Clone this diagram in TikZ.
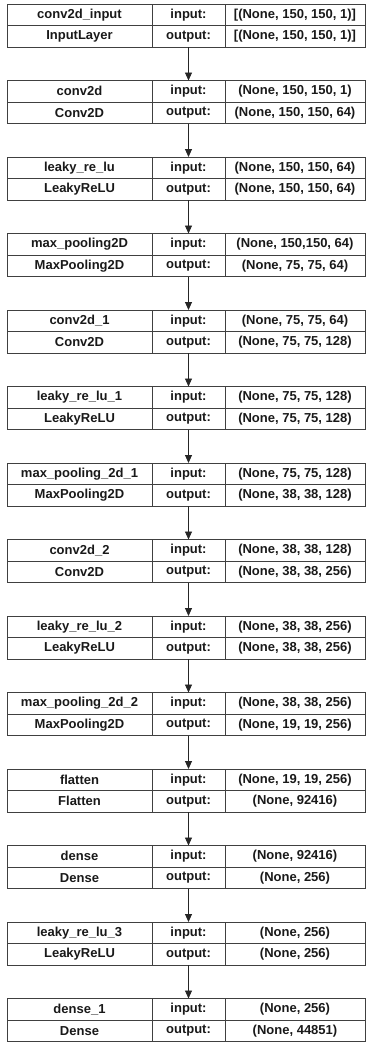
\documentclass[tikz,border=0pt]{standalone}
\usepackage{fontspec}
\setmainfont{Liberation Sans}
\usetikzlibrary{arrows.meta, positioning}

\begin{document}
\begin{tikzpicture}[
    x=1pt, y=1pt,
    cell/.style={rectangle, draw=black!75, line width=0.9pt, inner sep=0pt, outer sep=0pt, minimum height=21.5pt, font=\fontsize{13}{15}\selectfont\bfseries, text=black!90},
    namecell/.style={cell, minimum width=145pt},
    portcell/.style={cell, minimum width=73pt},
    shapecell/.style={cell, minimum width=140pt},
    arrow/.style={-{Triangle[width=7pt,length=8pt]}, line width=0.9pt, draw=black!85}
]
    \useasboundingbox (0,0) rectangle (366,-1042);

    \foreach \lname/\ltype/\inshape/\outshape [count=\i] in {
        conv2d\_input/InputLayer/{[(None, 150, 150, 1)]}/{[(None, 150, 150, 1)]},
        conv2d/Conv2D/{(None, 150, 150, 1)}/{(None, 150, 150, 64)},
        leaky\_re\_lu/LeakyReLU/{(None, 150, 150, 64)}/{(None, 150, 150, 64)},
        max\_pooling2D/MaxPooling2D/{(None, 150,150, 64)}/{(None, 75, 75, 64)},
        conv2d\_1/Conv2D/{(None, 75, 75, 64)}/{(None, 75, 75, 128)},
        leaky\_re\_lu\_1/LeakyReLU/{(None, 75, 75, 128)}/{(None, 75, 75, 128)},
        max\_pooling\_2d\_1/MaxPooling2D/{(None, 75, 75, 128)}/{(None, 38, 38, 128)},
        conv2d\_2/Conv2D/{(None, 38, 38, 128)}/{(None, 38, 38, 256)},
        leaky\_re\_lu\_2/LeakyReLU/{(None, 38, 38, 256)}/{(None, 38, 38, 256)},
        max\_pooling\_2d\_2/MaxPooling2D/{(None, 38, 38, 256)}/{(None, 19, 19, 256)},
        flatten/Flatten/{(None, 19, 19, 256)}/{(None, 92416)},
        dense/Dense/{(None, 92416)}/{(None, 256)},
        leaky\_re\_lu\_3/LeakyReLU/{(None, 256)}/{(None, 256)},
        dense\_1/Dense/{(None, 256)}/{(None, 44851)}
    }{
        \node[namecell, anchor=north west] (name\i) at (7, {-4-76.5*(\i-1)}) {\lname};
        \node[namecell, below=0pt of name\i] (type\i) {\ltype};
        \node[portcell, right=0pt of name\i] (in\i) {input:};
        \node[portcell, right=0pt of type\i] (out\i) {output:};
        \node[shapecell, right=0pt of in\i] (inshape\i) {\inshape};
        \node[shapecell, right=0pt of out\i] (outshape\i) {\outshape};
    }

    \foreach \a [evaluate=\a as \b using int(\a+1)] in {1,...,13}
        \draw[arrow] (out\a) -- (in\b);
\end{tikzpicture}
\end{document}
